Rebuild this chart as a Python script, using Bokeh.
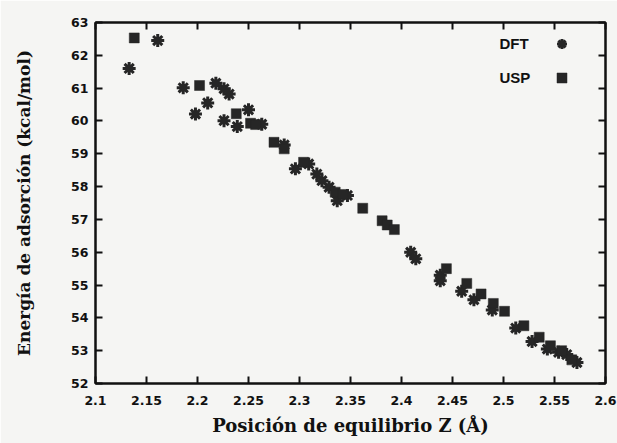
from bokeh.plotting import figure
from bokeh.models import (LinearAxis, FixedTicker, Legend, LegendItem, Range1d,
                          CustomJSTickFormatter, Label)
from bokeh.core.properties import value
from bokeh.embed import file_html
from bokeh.resources import INLINE

# ---- data ----
dft_x = [2.133, 2.161, 2.186, 2.198, 2.210, 2.218, 2.226, 2.231, 2.226, 2.239,
         2.250, 2.263, 2.285, 2.296, 2.309, 2.317, 2.322, 2.329, 2.337, 2.347,
         2.409, 2.414, 2.438, 2.438, 2.459, 2.471, 2.489, 2.512, 2.528, 2.543,
         2.554, 2.562, 2.572]
dft_y = [61.60, 62.45, 61.01, 60.21, 60.55, 61.15, 60.98, 60.82, 60.01, 59.83,
         60.34, 59.90, 59.27, 58.54, 58.69, 58.38, 58.18, 57.98, 57.57, 57.73,
         56.00, 55.80, 55.30, 55.13, 54.81, 54.55, 54.24, 53.69, 53.28, 53.05,
         52.95, 52.88, 52.64]

usp_x = [2.138, 2.202, 2.238, 2.252, 2.257, 2.275, 2.285, 2.304, 2.335, 2.343,
         2.362, 2.381, 2.386, 2.393, 2.444, 2.464, 2.478, 2.490, 2.501, 2.520,
         2.535, 2.546, 2.557, 2.567]
usp_y = [62.53, 61.08, 60.22, 59.93, 59.89, 59.35, 59.15, 58.74, 57.83, 57.76,
         57.34, 56.96, 56.83, 56.69, 55.50, 55.05, 54.73, 54.44, 54.20, 53.76,
         53.41, 53.15, 53.00, 52.72]

x_ticks = [2.1, 2.15, 2.2, 2.25, 2.3, 2.35, 2.4, 2.45, 2.5, 2.55, 2.6]
x_tick_labels = ["2.1", "2.15", "2.2", "2.25", "2.3", "2.35", "2.4", "2.45", "2.5", "2.55", "2.6"]
y_ticks = [52, 53, 54, 55, 56, 57, 58, 59, 60, 61, 62, 63]

series_names = ["DFT", "USP"]
x_title = "Posición de equilibrio Z (Å)"
y_title = "Energía de adsorción (kcal/mol)"

# ---- styling ----
BG = "#f5f5f3"
INK = "#111111"
MARK = "#262626"
SANS = "DejaVu Sans"
SERIF = "DejaVu Serif"

p = figure(frame_width=510, frame_height=361,
           min_border_left=95, min_border_right=12, min_border_top=22, min_border_bottom=60,
           x_range=Range1d(2.1, 2.6), y_range=Range1d(52, 63),
           output_backend="svg", toolbar_location=None,
           background_fill_color=BG, border_fill_color=BG)

p.xgrid.visible = False
p.ygrid.visible = False
p.outline_line_color = INK
p.outline_line_width = 2

dft = p.scatter(dft_x, dft_y, marker="asterisk", size=13, line_width=3,
                line_color=MARK, fill_color=MARK)
usp = p.scatter(usp_x, usp_y, marker="square", size=10,
                line_color=MARK, fill_color=MARK, line_width=0.5)

def style_axis(ax):
    ax.axis_line_color = INK
    ax.axis_line_width = 2
    ax.major_tick_line_color = INK
    ax.major_tick_line_width = 2
    ax.major_tick_in = 7
    ax.major_tick_out = 0
    ax.minor_tick_line_color = None
    ax.major_label_text_font = SANS
    ax.major_label_text_font_style = "bold"
    ax.major_label_text_font_size = "12.5px"
    ax.major_label_text_color = INK

xa = p.xaxis[0]
xa.ticker = FixedTicker(ticks=x_ticks)
xa.major_label_overrides = {t: l for t, l in zip(x_ticks, x_tick_labels)}
style_axis(xa)
xa.major_label_standoff = 12
xa.axis_label = x_title
xa.axis_label_text_font = SERIF
xa.axis_label_text_font_style = "bold"
xa.axis_label_text_font_size = "18px"
xa.axis_label_text_color = INK
xa.axis_label_standoff = 7

ya = p.yaxis[0]
ya.ticker = FixedTicker(ticks=y_ticks)
style_axis(ya)
ya.major_label_standoff = 7
ya.axis_label = y_title
ya.axis_label_text_font = SERIF
ya.axis_label_text_font_style = "bold"
ya.axis_label_text_font_size = "17px"
ya.axis_label_text_color = INK
ya.axis_label_standoff = 34

blank = CustomJSTickFormatter(code="return ''")
top = LinearAxis(ticker=FixedTicker(ticks=x_ticks), formatter=blank)
style_axis(top)
top.major_label_text_font_size = "1px"
top.major_label_standoff = 0
p.add_layout(top, "above")
right = LinearAxis(ticker=FixedTicker(ticks=y_ticks), formatter=blank)
style_axis(right)
right.major_label_text_font_size = "1px"
right.major_label_standoff = 0
p.add_layout(right, "right")

# legend: markers on the right, names to their left (as in the reference)
legend = Legend(items=[LegendItem(label=value(""), renderers=[dft]),
                       LegendItem(label=value(""), renderers=[usp])],
                location=(454, 293), padding=0, margin=0,
                glyph_width=25, glyph_height=25, spacing=9,
                label_standoff=0, label_width=0,
                border_line_color=None, background_fill_alpha=0)
p.add_layout(legend, "center")

for name, sy in zip(series_names, [340, 306]):
    p.add_layout(Label(x=404, y=sy, x_units="screen", y_units="screen", text=name,
                       text_font="Liberation Sans", text_font_style="bold", text_font_size="15px",
                       text_color=INK, text_baseline="middle", text_align="left"))

open("out.html", "w").write(file_html(p, INLINE))
